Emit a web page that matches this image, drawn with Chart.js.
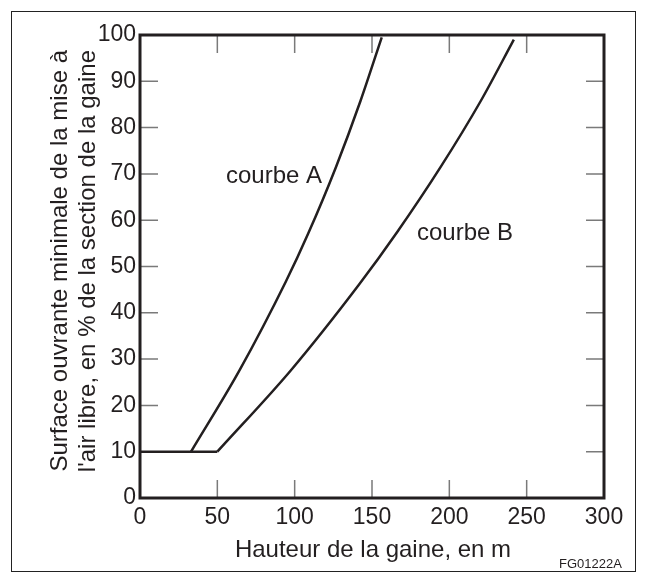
<!DOCTYPE html>
<html>
<head>
<meta charset="utf-8">
<script src="https://cdn.jsdelivr.net/npm/chart.js@4"></script>
<style>
  html, body { margin: 0; padding: 0; background: #fff; }
  canvas { display: block; }
</style>
</head>
<body>
<canvas id="gaineChart" width="646" height="583"></canvas>
<script>
// values
const xTicks = [0, 50, 100, 150, 200, 250, 300];
const yTicks = [0, 10, 20, 30, 40, 50, 60, 70, 80, 90, 100];

// flat part (10 %) shared by both curves
const flatX = [0, 50];
const flatY = [10, 10];

const courbeAX = [33, 64.4, 94.4, 108.6, 126.6, 142.6, 156.3];
const courbeAY = [10, 27.6, 46.8, 57, 71.4, 85.8, 99.5];

const courbeBX = [50, 97.6, 141.4, 166.2, 194.2, 220.4, 241.7];
const courbeBY = [10, 27.6, 46, 57.4, 71.4, 85.8, 99];

const yTitle = ['Surface ouvrante minimale de la mise à', "l'air libre, en % de la section de la gaine"];
const xTitle = 'Hauteur de la gaine, en m';
const figRef = 'FG01222A';

const ink = '#231f20';
const fontFamily = '"Liberation Sans", Arial, Helvetica, sans-serif';

const toPoints = (xs, ys) => xs.map((x, i) => ({ x, y: ys[i] }));

// inner ticks under the curves, frame and texts above
const decorPlugin = {
  id: 'decor',
  beforeDatasetsDraw(chart) {
    const { ctx, chartArea, scales } = chart;
    const { left, right, top, bottom } = chartArea;
    ctx.save();
    ctx.strokeStyle = '#7a7a7a';
    ctx.lineWidth = 1.5;
    const tickLen = 18;
    ctx.beginPath();
    xTicks.slice(1, -1).forEach((v) => {
      const px = scales.x.getPixelForValue(v);
      ctx.moveTo(px, bottom);
      ctx.lineTo(px, bottom - tickLen);
      ctx.moveTo(px, top);
      ctx.lineTo(px, top + tickLen);
    });
    yTicks.slice(1, -1).forEach((v) => {
      const py = scales.y.getPixelForValue(v);
      ctx.moveTo(left, py);
      ctx.lineTo(left + tickLen, py);
      ctx.moveTo(right, py);
      ctx.lineTo(right - tickLen, py);
    });
    ctx.stroke();
    ctx.restore();
  },
  afterDatasetsDraw(chart) {
    const { ctx, chartArea } = chart;
    const { left, right, top, bottom } = chartArea;
    ctx.save();

    // outer figure border
    ctx.strokeStyle = '#222';
    ctx.lineWidth = 1;
    ctx.strokeRect(11.5, 11.5, 624, 560);

    // plot frame
    ctx.strokeStyle = ink;
    ctx.lineWidth = 3;
    ctx.strokeRect(left, top, right - left, bottom - top);

    // curve labels
    ctx.fillStyle = ink;
    ctx.font = '24px ' + fontFamily;
    ctx.textBaseline = 'middle';
    ctx.textAlign = 'left';
    ctx.fillText('courbe A', 226, 176);
    ctx.fillText('courbe B', 417, 233);

    // x title
    ctx.textAlign = 'center';
    ctx.fillText(xTitle, (left + right) / 2 + 1, 550);

    // y title, two rotated lines
    ctx.textAlign = 'right';
    [60, 88].forEach((cx, i) => {
      ctx.save();
      ctx.translate(cx, 50);
      ctx.rotate(-Math.PI / 2);
      ctx.fillText(yTitle[i], 0, 0);
      ctx.restore();
    });

    // figure reference
    ctx.font = '13px ' + fontFamily;
    ctx.textAlign = 'left';
    ctx.fillText(figRef, 559, 564);

    ctx.restore();
  },
};

const lineStyle = {
  showLine: true,
  borderColor: ink,
  borderWidth: 2.5,
  pointRadius: 0,
  fill: false,
};

new Chart(document.getElementById('gaineChart'), {
  type: 'scatter',
  data: {
    datasets: [
      { label: 'palier', data: toPoints(flatX, flatY), ...lineStyle },
      { label: 'courbe A', data: toPoints(courbeAX, courbeAY), cubicInterpolationMode: 'monotone', ...lineStyle },
      { label: 'courbe B', data: toPoints(courbeBX, courbeBY), cubicInterpolationMode: 'monotone', ...lineStyle },
    ],
  },
  options: {
    responsive: false,
    animation: false,
    layout: { padding: { left: 0, right: 42, top: 35, bottom: 0 } },
    plugins: {
      legend: { display: false },
      tooltip: { enabled: false },
    },
    scales: {
      x: {
        type: 'linear',
        min: 0,
        max: 300,
        afterBuildTicks: (scale) => { scale.ticks = xTicks.map((v) => ({ value: v })); },
        afterFit: (scale) => { scale.height = 85; },
        ticks: { color: ink, font: { size: 23, family: fontFamily }, padding: 6, maxRotation: 0 },
        grid: { drawOnChartArea: false, drawTicks: false },
        border: { display: false },
      },
      y: {
        type: 'linear',
        min: 0,
        max: 100,
        afterBuildTicks: (scale) => { scale.ticks = yTicks.map((v) => ({ value: v })); },
        afterFit: (scale) => { scale.width = 140; },
        ticks: { color: ink, font: { size: 23, family: fontFamily }, padding: 4 },
        grid: { drawOnChartArea: false, drawTicks: false },
        border: { display: false },
      },
    },
  },
  plugins: [decorPlugin],
});
</script>
</body>
</html>
